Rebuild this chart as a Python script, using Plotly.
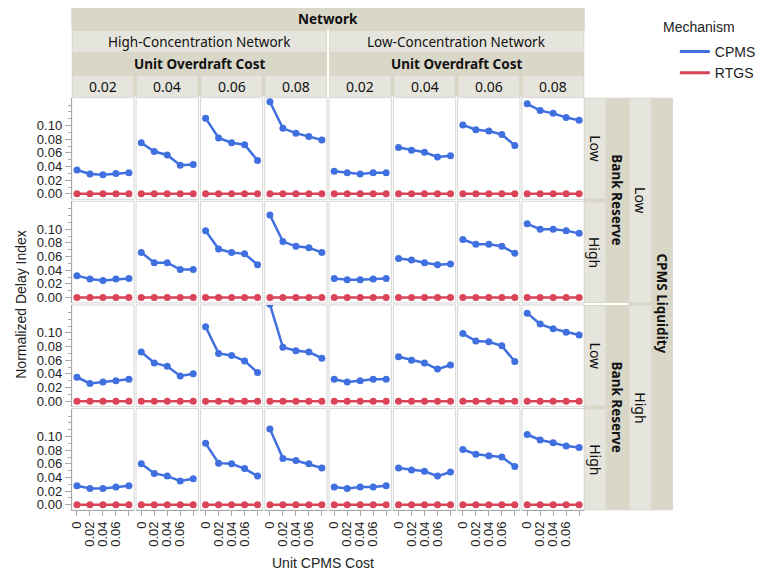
import plotly.graph_objects as go

# ---------------- data ----------------
unit_cpms_cost = [0, 0.02, 0.04, 0.06, 0.08]
cpms_tick_text = ["0", "0.02", "0.04", "0.06", ""]
overdraft_costs = ["0.02", "0.04", "0.06", "0.08"]
networks = ["High-Concentration Network", "Low-Concentration Network"]
liquidity_levels = ["Low", "High"]
reserve_levels = ["Low", "High"]

# CPMS delay index, one list per overdraft cost (0.02, 0.04, 0.06, 0.08)
hc_liqlow_reslow = [[0.035, 0.029, 0.028, 0.030, 0.031],
                    [0.075, 0.062, 0.057, 0.042, 0.043],
                    [0.111, 0.082, 0.075, 0.072, 0.049],
                    [0.135, 0.096, 0.089, 0.084, 0.079]]
lc_liqlow_reslow = [[0.033, 0.031, 0.029, 0.031, 0.031],
                    [0.068, 0.064, 0.061, 0.054, 0.056],
                    [0.101, 0.094, 0.092, 0.087, 0.071],
                    [0.132, 0.122, 0.118, 0.112, 0.108]]
hc_liqlow_reshigh = [[0.032, 0.027, 0.025, 0.027, 0.028],
                     [0.066, 0.051, 0.051, 0.041, 0.041],
                     [0.098, 0.071, 0.066, 0.064, 0.048],
                     [0.121, 0.082, 0.075, 0.073, 0.066]]
lc_liqlow_reshigh = [[0.028, 0.026, 0.026, 0.027, 0.028],
                     [0.057, 0.055, 0.051, 0.048, 0.049],
                     [0.085, 0.078, 0.078, 0.075, 0.065],
                     [0.108, 0.100, 0.100, 0.098, 0.094]]
hc_liqhigh_reslow = [[0.035, 0.026, 0.028, 0.030, 0.032],
                     [0.072, 0.056, 0.051, 0.037, 0.040],
                     [0.109, 0.070, 0.067, 0.059, 0.042],
                     [0.142, 0.079, 0.074, 0.072, 0.063]]
lc_liqhigh_reslow = [[0.032, 0.028, 0.030, 0.032, 0.032],
                     [0.065, 0.060, 0.056, 0.047, 0.053],
                     [0.099, 0.088, 0.087, 0.081, 0.058],
                     [0.129, 0.113, 0.106, 0.101, 0.097]]
hc_liqhigh_reshigh = [[0.028, 0.024, 0.024, 0.026, 0.028],
                      [0.060, 0.046, 0.042, 0.035, 0.038],
                      [0.090, 0.061, 0.060, 0.053, 0.042],
                      [0.111, 0.068, 0.065, 0.060, 0.054]]
lc_liqhigh_reshigh = [[0.026, 0.024, 0.026, 0.026, 0.028],
                      [0.054, 0.051, 0.049, 0.042, 0.048],
                      [0.081, 0.074, 0.072, 0.070, 0.056],
                      [0.103, 0.095, 0.091, 0.086, 0.084]]
rtgs_delay = [0.0, 0.0, 0.0, 0.0, 0.0]

# rows: (liquidity, reserve) ; each row holds [HC panels, LC panels]
rows_data = [
    [hc_liqlow_reslow, lc_liqlow_reslow],
    [hc_liqlow_reshigh, lc_liqlow_reshigh],
    [hc_liqhigh_reslow, lc_liqhigh_reslow],
    [hc_liqhigh_reshigh, lc_liqhigh_reshigh],
]

# ---------------- layout geometry (pixels) ----------------
W, H = 761, 576
col_left = [69.5, 134.5, 199.5, 264.5, 329.5, 394.5, 459.5, 524.5]
col_w = 63
row_top = [98, 202, 306, 410]
row_h = 102

def px(x):
    return x / W

def py(y):
    return 1 - y / H

BLUE = "#4070df"
RED = "#d94459"
DARK = "#d9d7c8"
LIGHT = "#e6e5dd"
AXIS = "#a8a8a8"
FRAME = "#d6d6d6"
ARIAL = "Liberation Sans, Arial, sans-serif"
TICKFONT = dict(family=ARIAL, size=13, color="#222222")
HDRFONT = "Noto Sans, Open Sans, sans-serif"

fig = go.Figure()
layout_axes = {}
shapes = []
annotations = []

idx = 0
for r in range(4):
    for c in range(8):
        idx += 1
        net = c // 4
        oc = c % 4
        xa = "x" if idx == 1 else f"x{idx}"
        ya = "y" if idx == 1 else f"y{idx}"
        vals = rows_data[r][net][oc]
        fig.add_trace(go.Scatter(x=unit_cpms_cost, y=vals, mode="lines+markers",
                                 line=dict(color=BLUE, width=2.5),
                                 marker=dict(color=BLUE, size=7),
                                 xaxis=xa, yaxis=ya, showlegend=False,
                                 name="CPMS", legendgroup="CPMS"))
        fig.add_trace(go.Scatter(x=unit_cpms_cost, y=rtgs_delay, mode="lines+markers",
                                 line=dict(color=RED, width=2.5),
                                 marker=dict(color=RED, size=7),
                                 xaxis=xa, yaxis=ya, showlegend=False,
                                 name="RTGS", legendgroup="RTGS"))
        L = col_left[c]
        T = row_top[r]
        xkey = "xaxis" if idx == 1 else f"xaxis{idx}"
        ykey = "yaxis" if idx == 1 else f"yaxis{idx}"
        bottom = (r == 3)
        left = (c == 0)
        layout_axes[xkey] = dict(
            domain=[px(L), px(L + col_w)], anchor=ya, range=[-0.008, 0.088],
            showgrid=False, zeroline=False, fixedrange=True,
            showline=bottom, linecolor=AXIS, linewidth=1,
            tickvals=unit_cpms_cost, ticktext=cpms_tick_text,
            ticks="outside" if bottom else "", ticklen=5, tickcolor=AXIS,
            showticklabels=bottom, tickangle=-90, tickfont=TICKFONT,
        )
        layout_axes[ykey] = dict(
            domain=[py(T + row_h), py(T)], anchor=xa, range=[-0.008, 0.141],
            showgrid=False, zeroline=False, fixedrange=True,
            showline=left, linecolor=AXIS, linewidth=1,
            tickvals=[0, 0.02, 0.04, 0.06, 0.08, 0.10], tickformat=".2f",
            ticks="outside" if left else "", ticklen=6, tickcolor=AXIS,
            showticklabels=left, tickfont=TICKFONT,
            minor=dict(tickvals=[0.01, 0.03, 0.05, 0.07, 0.09, 0.11, 0.12, 0.13],
                       ticks="outside" if left else "", ticklen=3, tickcolor=AXIS),
        )
        # panel frame
        shapes.append(dict(type="rect", xref="paper", yref="paper",
                           x0=px(L), x1=px(L + col_w), y0=py(T + row_h), y1=py(T),
                           line=dict(color=FRAME, width=1), layer="below"))

# legend-only traces
fig.add_trace(go.Scatter(x=[None], y=[None], mode="lines", name="CPMS",
                         line=dict(color=BLUE, width=3), showlegend=True))
fig.add_trace(go.Scatter(x=[None], y=[None], mode="lines", name="RTGS",
                         line=dict(color=RED, width=3), showlegend=True))

def rect(x0, y0, x1, y1, color):
    shapes.append(dict(type="rect", xref="paper", yref="paper",
                       x0=px(x0), x1=px(x1), y0=py(y1), y1=py(y0),
                       fillcolor=color, line=dict(width=0), layer="below"))

def label(text, x, y, bold=False, size=14, angle=0):
    annotations.append(dict(text=f"<b>{text}</b>" if bold else text,
                            x=px(x), y=py(y), xref="paper", yref="paper",
                            showarrow=False, textangle=angle,
                            font=dict(family=HDRFONT, size=size, color="#111111"),
                            xanchor="center", yanchor="middle"))

# ---------- top header ----------
rect(69, 8, 588, 30, DARK)
label("Network", 328.5, 19.5, bold=True, size=13.5)
for g in range(2):
    gx0 = col_left[g * 4]
    gx1 = col_left[g * 4 + 3] + col_w
    rect(gx0, 30, gx1, 97, DARK)
    rect(gx0 + 1, 31, gx1 - 1, 52, LIGHT)
    label(networks[g], (gx0 + gx1) / 2, 42, size=13.5)
    label("Unit Overdraft Cost", (gx0 + gx1) / 2, 64, bold=True, size=13.5)
    for k in range(4):
        cx0 = col_left[g * 4 + k]
        rect(cx0 + 1, 76, cx0 + col_w - 1, 97, LIGHT)
        label(overdraft_costs[k], cx0 + col_w / 2, 86.5, size=14)

# ---------- right strips ----------
rect(587, 98, 677, 512, DARK)
for p in range(2):
    top = row_top[2 * p]
    bot = row_top[2 * p + 1] + row_h
    for k in range(2):
        rt = row_top[2 * p + k]
        rect(588, rt + 1, 609, rt + row_h - 1, LIGHT)
        label(reserve_levels[k], 598.5, rt + row_h / 2, size=14, angle=90)
    label("Bank Reserve", 620.5, (top + bot) / 2, bold=True, size=13.5, angle=90)
    rect(633, top + 1, 655, bot - 1, LIGHT)
    label(liquidity_levels[p], 644, (top + bot) / 2, size=14, angle=90)
# white separator between the two bank reserve groups
rect(587, 304, 632, 306, "#ffffff")
label("CPMS Liquidity", 666.5, 305, bold=True, size=13.5, angle=90)

# ---------- axis titles / legend title ----------
annotations.append(dict(text="Normalized Delay Index", x=px(18), y=py(305),
                        xref="paper", yref="paper", showarrow=False, textangle=-90,
                        xanchor="center", yanchor="middle",
                        font=dict(family=ARIAL, size=14, color="#222222")))
annotations.append(dict(text="Unit CPMS Cost", x=px(323), y=py(565),
                        xref="paper", yref="paper", showarrow=False,
                        xanchor="center", yanchor="middle",
                        font=dict(family=ARIAL, size=14, color="#222222")))
annotations.append(dict(text="Mechanism", x=px(665), y=py(27),
                        xref="paper", yref="paper", showarrow=False,
                        xanchor="left", yanchor="middle",
                        font=dict(family=ARIAL, size=14, color="#222222")))

fig.update_layout(
    width=W, height=H, margin=dict(l=0, r=0, t=0, b=0),
    paper_bgcolor="white", plot_bgcolor="white",
    shapes=shapes, annotations=annotations,
    legend=dict(x=px(679), y=py(36), xanchor="left", yanchor="top",
                font=dict(family=ARIAL, size=14, color="#222222"),
                bgcolor="rgba(0,0,0,0)", itemwidth=30, tracegroupgap=0),
    **layout_axes,
)

fig.write_html("out.html")
